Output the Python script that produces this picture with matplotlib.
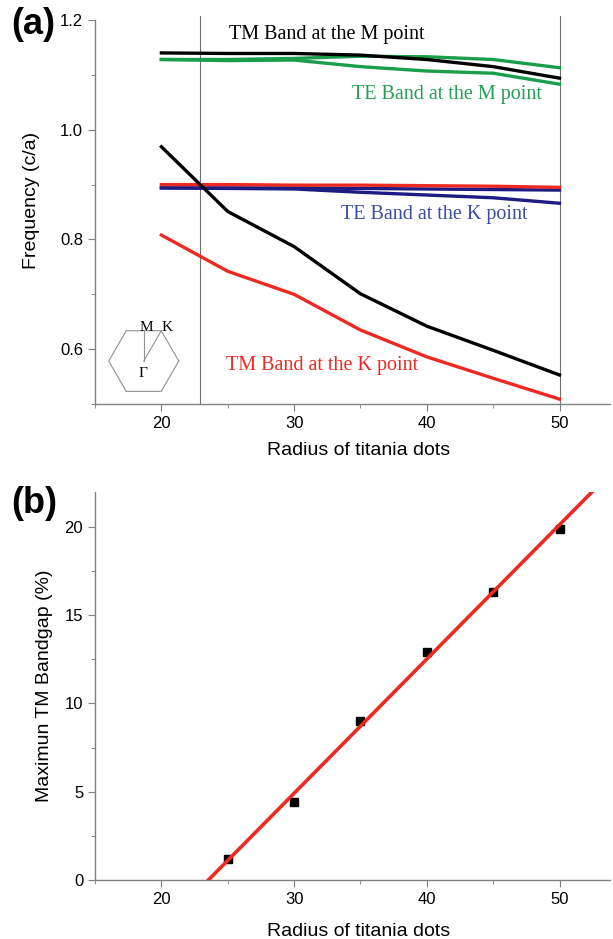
import matplotlib
matplotlib.use('Agg')
import numpy as np
import matplotlib.pyplot as plt
from matplotlib.ticker import MultipleLocator

plt.rcParams['font.family'] = ['Liberation Sans', 'DejaVu Sans']

# panel (a): band frequencies vs dot radius
radius = [20, 25, 30, 35, 40, 45, 50]
tm_m_upper = [1.140, 1.139, 1.139, 1.136, 1.128, 1.115, 1.094]
te_m_upper = [1.128, 1.128, 1.130, 1.134, 1.133, 1.128, 1.113]
te_m_lower = [1.128, 1.126, 1.127, 1.115, 1.107, 1.103, 1.083]
tm_m_lower = [0.969, 0.851, 0.787, 0.701, 0.642, 0.598, 0.553]
tm_k_upper = [0.900, 0.900, 0.899, 0.899, 0.898, 0.897, 0.895]
te_k_upper = [0.894, 0.894, 0.894, 0.893, 0.892, 0.891, 0.890]
te_k_lower = [0.894, 0.893, 0.892, 0.886, 0.881, 0.876, 0.866]
tm_k_lower = [0.808, 0.742, 0.700, 0.635, 0.586, 0.547, 0.509]
gap_edges = [22.9, 50]

# panel (b): maximum TM band gap
gap_radius = [25, 30, 35, 40, 45, 50]
gap_percent = [1.2, 4.4, 9.0, 12.9, 16.3, 19.9]

BLACK = '#000000'
GREEN = '#1a9e4c'
BLUE = '#1c1c82'
RED = '#ec2a22'
AXC = '#808080'

fig = plt.figure(figsize=(6.13, 9.39), dpi=100)
ax1 = fig.add_axes([0.155, 0.5697, 0.84, 0.409])
ax2 = fig.add_axes([0.155, 0.0628, 0.84, 0.4136])


def style(ax, xlab_y):
    for s in ['top', 'right']:
        ax.spines[s].set_visible(False)
    for s in ['left', 'bottom']:
        ax.spines[s].set_color(AXC)
        ax.spines[s].set_linewidth(1.0)
    ax.tick_params(which='both', direction='out', color=AXC, labelsize=12)
    ax.tick_params(which='major', length=5)
    ax.tick_params(which='minor', length=3)
    ax.xaxis.set_major_locator(MultipleLocator(10))
    ax.xaxis.set_minor_locator(MultipleLocator(5))
    ax.set_xlim(15, 53.8)
    ax.set_xlabel('Radius of titania dots', fontsize=14)
    ax.xaxis.set_label_coords(0.512, xlab_y)


# ---- panel (a)
style(ax1, -0.1)
for xv in gap_edges:
    ax1.axvline(xv, ymin=0, ymax=1.01, color='#707070', lw=0.8, clip_on=False)
lw = 2.4
ax1.plot(radius, te_m_lower, color=GREEN, lw=lw)
ax1.plot(radius, te_m_upper, color=GREEN, lw=lw)
ax1.plot(radius, tm_m_upper, color=BLACK, lw=lw)
ax1.plot(radius, te_k_lower, color=BLUE, lw=lw)
ax1.plot(radius, te_k_upper, color=BLUE, lw=lw)
ax1.plot(radius, tm_k_upper, color=RED, lw=lw)
ax1.plot(radius, tm_k_lower, color=RED, lw=lw)
ax1.plot(radius, tm_m_lower, color=BLACK, lw=lw)
ax1.set_ylim(0.5, 1.2)
ax1.yaxis.set_minor_locator(MultipleLocator(0.1))
ax1.set_yticks([0.6, 0.8, 1.0, 1.2])
ax1.set_yticklabels(['0.6', '0.8', '1.0', '1.2'])
ax1.set_ylabel('Frequency (c/a)', fontsize=14)
ax1.yaxis.set_label_coords(-0.107, 0.53)

serif = ['Liberation Serif', 'DejaVu Serif']
ax1.text(25.1, 1.174, 'TM Band at the M point', color=BLACK, fontsize=14.5,
         family=serif, va='center')
ax1.text(34.4, 1.064, 'TE Band at the M point', color='#23a055', fontsize=14.5,
         family=serif, va='center')
ax1.text(33.5, 0.846, 'TE Band at the K point', color='#3a4ea0', fontsize=14.5,
         family=serif, va='center')
ax1.text(24.9, 0.570, 'TM Band at the K point', color=RED, fontsize=14.5,
         family=serif, va='center')

# Brillouin zone sketch
ins = fig.add_axes([0.172, 0.5755, 0.125, 0.08])
ins.axis('off')
ang = np.deg2rad(np.arange(0, 361, 60))
ins.plot(np.cos(ang), np.sin(ang), color='#909090', lw=0.8)
ins.plot([0, 0], [0, np.sqrt(3) / 2], color='#909090', lw=0.8)
ins.plot([0, 0.5], [0, np.sqrt(3) / 2], color='#909090', lw=0.8)
ins.set_xlim(-1.094, 1.094)
ins.set_ylim(-1.073, 1.073)
ins.text(0.07, 0.97, 'M', family=serif, fontsize=11, ha='center', va='center')
ins.text(0.66, 0.97, 'K', family=serif, fontsize=11, ha='center', va='center')
ins.text(-0.02, -0.35, 'Γ', family=serif, fontsize=11, ha='center', va='center')

# ---- panel (b)
style(ax2, -0.11)
ax2.plot(gap_radius, gap_percent, 's', color='black', ms=5.5, zorder=2)
slope, icpt = np.polyfit(gap_radius, gap_percent, 1)
xfit = np.array([-icpt / slope, 54])
ax2.plot(xfit, slope * xfit + icpt, color=RED, lw=2.6, zorder=3)
ax2.set_ylim(0, 22)
ax2.yaxis.set_major_locator(MultipleLocator(5))
ax2.yaxis.set_minor_locator(MultipleLocator(2.5))
ax2.set_ylabel('Maximun TM Bandgap (%)', fontsize=14)
ax2.yaxis.set_label_coords(-0.081, 0.5)

fig.text(0.018, 0.993, '(a)', fontsize=26, fontweight='bold', va='top')
fig.text(0.018, 0.482, '(b)', fontsize=26, fontweight='bold', va='top')

fig.savefig('out.png', dpi=100)
